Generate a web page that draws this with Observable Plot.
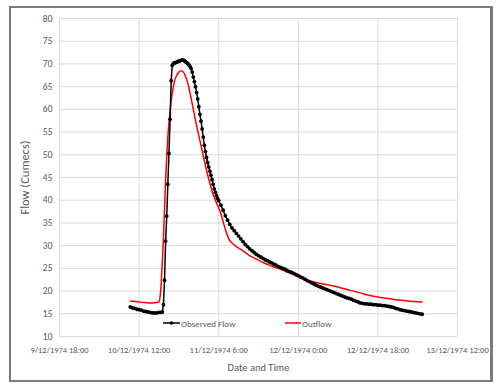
<!DOCTYPE html>
<html>
<head>
<meta charset="utf-8">
<script src="https://cdn.jsdelivr.net/npm/d3@7"></script>
<script src="https://cdn.jsdelivr.net/npm/@observablehq/plot@0.6"></script>
<style>
  html, body { margin: 0; padding: 0; background: #fff; }
  #wrap { position: relative; width: 498px; height: 388px; overflow: hidden; background: #fff;
          font-family: "Carlito", "Liberation Sans Narrow", "DejaVu Sans Condensed", "Liberation Sans", sans-serif; }
  #frame { position: absolute; left: 9px; top: 6px; width: 484px; height: 376px; box-sizing: border-box;
           border: 2px solid #7a7a7a; border-right-width: 3px; pointer-events: none; }
  #chart { position: absolute; left: 0; top: 0; }
  .leg { position: absolute; top: 316px; height: 14px; display: flex; align-items: center;
         font-size: 9px; color: #595959; white-space: nowrap; }
  .leg svg { display: block; margin-right: 1px; }
</style>
</head>
<body>
<div id="wrap">
  <div id="chart"></div>
  <div id="frame"></div>
  <div class="leg" id="legObs" style="left:163px"></div>
  <div class="leg" id="legOut" style="left:285px"></div>
</div>
<script>
// Time in hours after 10/12/1974 00:00
const xTickHours = [-6, 12, 30, 48, 66, 84];
const xTickLabels = ["9/12/1974 18:00", "10/12/1974 12:00", "11/12/1974 6:00",
                     "12/12/1974 0:00", "12/12/1974 18:00", "13/12/1974 12:00"];
const yTicks = [10, 15, 20, 25, 30, 35, 40, 45, 50, 55, 60, 65, 70, 75, 80];
const seriesNames = ["Observed Flow", "Outflow"];

const obsHours = [
  10, 10.5, 11, 11.5, 12, 12.5, 13, 13.5, 14, 14.5, 15, 15.5, 16, 16.5, 17,
  17.25, 17.5, 17.75, 18, 18.25, 18.5, 18.75, 19, 19.25, 19.5, 19.75,
  20, 20.25, 20.5, 20.75, 21, 21.25, 21.5, 21.75, 22, 22.25, 22.5, 22.75,
  23, 23.25, 23.5, 23.75, 24, 24.25, 24.5, 24.75, 25, 25.25, 25.5, 25.75,
  26, 26.25, 26.5, 26.75, 27, 27.25, 27.5, 27.75, 28, 28.25, 28.5, 28.75,
  29, 29.25, 29.5, 29.75, 30,
  30.5, 31, 31.5, 32, 32.5, 33, 33.5, 34, 34.5, 35, 35.5, 36, 36.5, 37, 37.5,
  38, 38.5, 39, 39.5, 40, 40.5, 41, 41.5, 42, 42.5, 43, 43.5, 44, 44.5, 45,
  45.5, 46, 46.5, 47, 47.5, 48, 48.5, 49, 49.5, 50, 50.5, 51, 51.5, 52, 52.5,
  53, 53.5, 54, 54.5, 55, 55.5, 56, 56.5, 57, 57.5, 58, 58.5, 59, 59.5, 60,
  60.5, 61, 61.5, 62, 62.5, 63, 63.5, 64, 64.5, 65, 65.5, 66, 66.5, 67, 67.5,
  68, 68.5, 69, 69.5, 70, 70.5, 71, 71.5, 72, 72.5, 73, 73.5, 74, 74.5, 75,
  75.5, 76
];
const obsFlow = [
  16.5, 16.3, 16.2, 16.0, 15.9, 15.8, 15.6, 15.5, 15.4, 15.3, 15.2, 15.2, 15.2, 15.3, 15.3,
  15.4, 17.0, 22.4, 31.0, 36.5, 43.5, 50.3, 57.8, 66.3, 69.7, 70.1,
  70.2, 70.3, 70.4, 70.5, 70.6, 70.7, 70.8, 70.9, 70.8, 70.7, 70.5, 70.3,
  70.1, 69.8, 69.5, 69.0, 68.2, 67.1, 66.1, 65.0, 63.7, 62.3, 60.6, 58.9,
  57.4, 55.7, 53.9, 52.1, 50.7, 49.4, 48.3, 47.3, 46.4, 45.5, 44.5, 43.5,
  42.5, 41.7, 41.0, 40.4, 39.9,
  38.9, 37.8, 36.6, 35.6, 34.7, 33.9, 33.3, 32.7, 32.1, 31.5, 30.9, 30.3, 29.8, 29.3, 28.9,
  28.5, 28.1, 27.8, 27.5, 27.2, 26.9, 26.7, 26.4, 26.2, 25.9, 25.7, 25.4, 25.2, 25.0, 24.8,
  24.5, 24.3, 24.1, 23.9, 23.6, 23.4, 23.1, 22.9, 22.6, 22.3, 22.1, 21.8, 21.6, 21.3, 21.1,
  20.9, 20.7, 20.5, 20.3, 20.1, 19.9, 19.7, 19.5, 19.3, 19.1, 18.9, 18.7, 18.5, 18.4, 18.2,
  18.0, 17.8, 17.6, 17.4, 17.3, 17.2, 17.2, 17.1, 17.1, 17.0, 17.0, 16.9, 16.9, 16.8, 16.8,
  16.7, 16.6, 16.5, 16.4, 16.2, 16.1, 15.9, 15.8, 15.7, 15.6, 15.5, 15.4, 15.3, 15.2, 15.1,
  15.0, 14.9
];

const outHours = [
  10, 11, 12, 13, 14, 15, 16, 16.5, 16.75,
  17, 17.25, 17.5, 17.75, 18, 18.25, 18.5, 18.75, 19, 19.25, 19.5, 19.75, 20,
  20.5, 21, 21.5, 22, 22.5, 23, 23.5, 24, 24.5, 25, 25.5, 26, 26.5, 27, 27.5,
  28, 28.5, 29, 29.5, 30, 30.5, 31, 31.5, 32, 32.5, 33,
  34, 35, 36, 37, 38, 39, 40, 41, 42, 43, 44, 45, 46, 47, 48, 49, 50,
  52, 54, 56, 58, 60, 62, 64, 66, 68, 70, 72, 74, 76
];
const outFlow = [
  17.8, 17.7, 17.6, 17.5, 17.4, 17.4, 17.5, 17.6, 18.8,
  21.8, 26.5, 31.5, 38.0, 44.5, 49.5, 54.0, 57.0, 59.5, 61.8, 63.6, 65.0, 66.2,
  67.5, 68.2, 68.5, 68.2, 67.3, 65.8, 63.7, 61.3, 58.8, 56.4, 54.2, 52.0, 49.8, 47.6, 45.6,
  43.8, 42.0, 40.6, 39.4, 38.3, 37.0, 35.3, 33.6, 32.2, 31.1, 30.6,
  29.8, 29.2, 28.5, 27.8, 27.3, 26.8, 26.3, 25.9, 25.5, 25.1, 24.8, 24.4, 24.0, 23.6, 23.2, 22.8, 22.4,
  21.9, 21.5, 21.1, 20.6, 20.1, 19.6, 19.1, 18.7, 18.4, 18.1, 17.9, 17.7, 17.6
];

const obs = obsHours.map((t, i) => ({t, q: obsFlow[i]}));
const out = outHours.map((t, i) => ({t, q: outFlow[i]}));
const xLabel = d => xTickLabels[xTickHours.indexOf(d)];

const FONT = '"Carlito", "Liberation Sans Narrow", "DejaVu Sans Condensed", "Liberation Sans", sans-serif';

const chart = Plot.plot({
  width: 498,
  height: 388,
  marginLeft: 59,
  marginRight: 41,
  marginTop: 18,
  marginBottom: 52,
  style: {fontFamily: FONT, fontSize: "9.5px", color: "#595959", background: "transparent", overflow: "visible"},
  x: {type: "linear", domain: [-6, 84]},
  y: {type: "linear", domain: [10, 80]},
  marks: [
    Plot.gridX(xTickHours, {stroke: "#d9d9d9", strokeOpacity: 1, strokeWidth: 1}),
    Plot.gridY(yTicks, {stroke: "#d9d9d9", strokeOpacity: 1, strokeWidth: 1}),
    Plot.axisX(xTickHours, {tickSize: 0, tickPadding: 10, tickFormat: xLabel, fontSize: "8.5px",
      label: "Date and Time", labelAnchor: "center", labelArrow: "none", labelOffset: 34}),
    Plot.axisY(yTicks, {tickSize: 0, tickPadding: 7,
      label: "Flow (Cumecs)", labelAnchor: "center", labelArrow: "none", labelOffset: 39}),
    Plot.line(out, {x: "t", y: "q", stroke: "#ff0000", strokeWidth: 1.5, curve: "monotone-x"}),
    Plot.line(obs, {x: "t", y: "q", stroke: "#000000", strokeWidth: 1.5}),
    Plot.dot(obs, {x: "t", y: "q", r: 1.9, fill: "#000000", stroke: "none"})
  ]
});
// axis title sizes
d3.select(chart).selectAll('g[aria-label="x-axis label"] text').style("font-size", "10.5px");
d3.select(chart).selectAll('g[aria-label="x-axis label"]').attr("font-size", "10.5px");
d3.select(chart).selectAll('g[aria-label="y-axis label"] text').style("font-size", "12.5px");
d3.select(chart).selectAll('g[aria-label="y-axis label"]').attr("font-size", "12.5px");
document.getElementById("chart").appendChild(chart);

// legend
document.getElementById("legObs").innerHTML =
  '<svg width="17" height="8"><line x1="0" y1="4" x2="17" y2="4" stroke="#000" stroke-width="1.5"/>' +
  '<circle cx="8.5" cy="4" r="1.8" fill="#000"/></svg><span>' + seriesNames[0] + '</span>';
document.getElementById("legOut").innerHTML =
  '<svg width="16" height="8"><line x1="0" y1="4" x2="16" y2="4" stroke="#ff0000" stroke-width="1.5"/></svg><span>' +
  seriesNames[1] + '</span>';
</script>
</body>
</html>
